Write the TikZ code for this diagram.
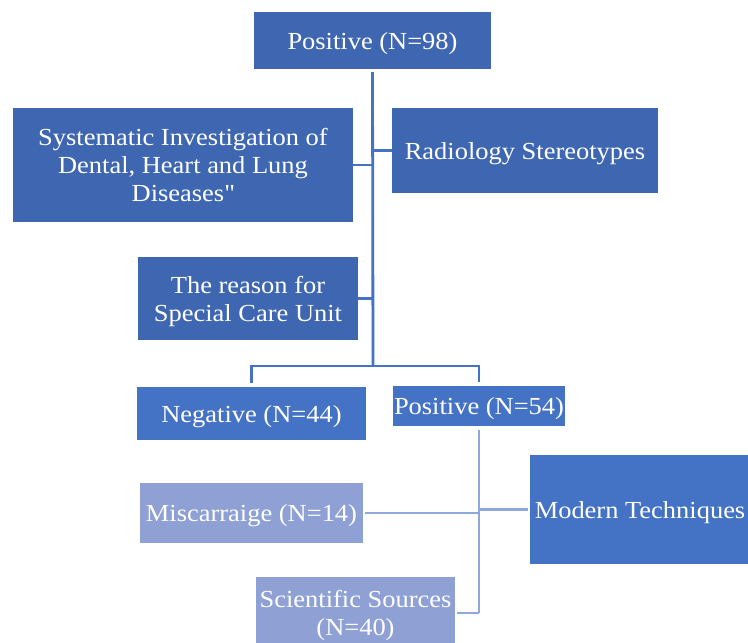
\documentclass[tikz,border=0pt]{standalone}
\usepackage{fontspec}
\setmainfont{Liberation Serif}[FakeStretch=1.08]
\usepackage{tikz}

\definecolor{darkblue}{HTML}{3F67B1}
\definecolor{midblue}{HTML}{4472C4}
\definecolor{paleblue}{HTML}{8EA0D4}
\definecolor{paleline}{HTML}{8FA8DC}

\begin{document}
\begin{tikzpicture}[x=1pt,y=-1pt,
  box/.style n args={3}{fill=#1,minimum width=#2,minimum height=#3,text=white,align=center,inner sep=0pt,text depth=-0.5pt,rectangle,font=\fontsize{24.5}{28}\selectfont},
  trunk/.style={midblue,line width=2.8pt},
  twig/.style={paleline,line width=2.8pt}]
\useasboundingbox (0,0) rectangle (748,643);
% boxes
\node[box={darkblue}{237}{57}] (pos98) at (372.5,40.5) {Positive (N=98)};
\node[box={darkblue}{340}{114}] (sysinv) at (183,165) {Systematic Investigation of\\Dental, Heart and Lung\\Diseases\textquotedbl};
\node[box={darkblue}{266}{85}] (radio) at (525,150.5) {Radiology Stereotypes};
\node[box={darkblue}{220}{83}] (special) at (248,298.5) {The reason for\\Special Care Unit};
\node[box={midblue}{229}{53}] (neg) at (251.5,413.5) {Negative (N=44)};
\node[box={midblue}{172}{40}] (pos54) at (479,406) {Positive (N=54)};
\node[box={paleblue}{223}{60}] (misc) at (251.5,513) {Miscarraige (N=14)};
\node[box={midblue}{220}{109}] (modern) at (640,509.5) {Modern Techniques};
\node[box={paleblue}{199}{72}] (sci) at (355.5,613) {Scientific Sources\\(N=40)};
% upper tree
\coordinate (split) at (373,366);
\draw[trunk,shorten <=3pt] (pos98.south) -- (split);
\draw[trunk] (split |- radio.west) -- (radio.west);
\draw[trunk] (split |- sysinv.east) -- (sysinv.east);
\draw[trunk] (split |- special.east) -- (special.east);
\draw[trunk,shorten >=4pt] (split) -| (neg.north);
\draw[trunk,shorten >=4pt] (split) -| (pos54.north);
% lower tree
\coordinate (fork) at (pos54.south |- sci.east);
\draw[twig,shorten <=4pt] (pos54.south) -- (fork);
\draw[twig,shorten >=2pt] (fork) -- (sci.east);
\draw[twig,shorten >=2pt] (pos54.south |- misc.east) -- (misc.east);
\draw[twig,shorten >=2pt] (pos54.south |- modern.west) -- (modern.west);
\end{tikzpicture}
\end{document}
